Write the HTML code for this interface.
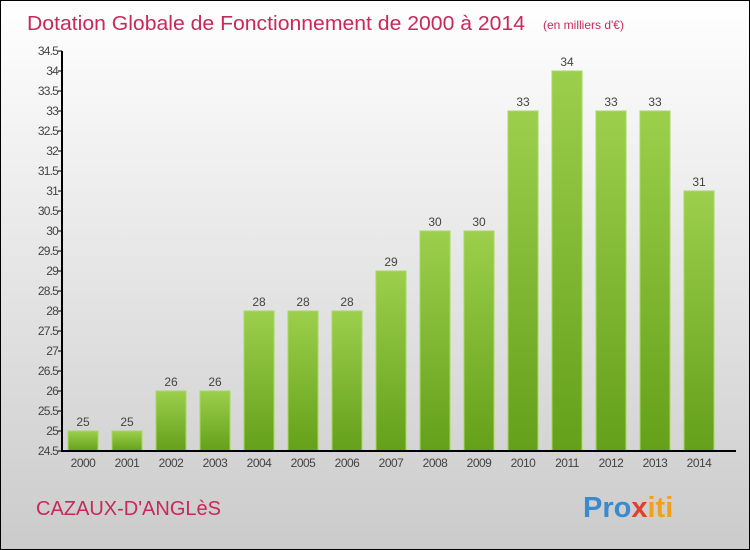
<!DOCTYPE html>
<html><head><meta charset="utf-8"><style>
body{margin:0}
#c{width:750px;height:550px;position:relative;box-sizing:border-box;border:1px solid #000;background:linear-gradient(#fff,#cbcbcb);font-family:"Liberation Sans",sans-serif;overflow:hidden}
</style></head><body>
<div id="c">
<svg width="748" height="548" style="position:absolute;left:0;top:0" id="s">
<defs><linearGradient id="g" x1="0" y1="0" x2="0" y2="1"><stop offset="0" stop-color="#9ccf4c"/><stop offset="1" stop-color="#64a01a"/></linearGradient></defs>
<text x="26" y="29" font-size="20" fill="#c8285a" textLength="498" lengthAdjust="spacingAndGlyphs">Dotation Globale de Fonctionnement de 2000 à 2014</text>
<text x="542" y="28" font-size="12" fill="#c8285a">(en milliers d'€)</text>
<text x="35" y="514" font-size="20" fill="#c8285a">CAZAUX-D'ANGLèS</text>
<text x="582" y="516" font-size="29" font-weight="bold" fill="#f0a020"><tspan fill="#3a8ad0">Pro</tspan><tspan fill="#e04030">x</tspan><tspan fill="#f0a020">iti</tspan></text>
</svg>
</div>
<script>
const years=["2000","2001","2002","2003","2004","2005","2006","2007","2008","2009","2010","2011","2012","2013","2014"];
const values=[25,25,26,26,28,28,28,29,30,30,33,34,33,33,31];
const yTicks=[24.5,25,25.5,26,26.5,27,27.5,28,28.5,29,29.5,30,30.5,31,31.5,32,32.5,33,33.5,34,34.5];
const s=document.getElementById('s');const NS="http://www.w3.org/2000/svg";
const y=v=>450-(v-24.5)*40, x=i=>82+i*44;
function mk(t,a){const e=document.createElementNS(NS,t);for(const k in a)e.setAttribute(k,a[k]);s.appendChild(e);return e;}
yTicks.forEach(v=>{
 const l=mk('line',{x1:57,x2:61,y1:y(v),y2:y(v),stroke:'#000'});
 
 
 const t=mk('text',{x:57,y:y(v)+4,'text-anchor':'end','font-size':12,fill:'#444','letter-spacing':'-0.8'});
 t.textContent=String(v);
 
 
});
years.forEach((yr,i)=>{
 const b=mk('rect',{x:x(i)-15,y:y(values[i]),width:30,height:450-y(values[i]),fill:'url(#g)',stroke:'#a8d860','stroke-width':1});
 
 
 const v=mk('text',{x:x(i),y:y(values[i])-5,'text-anchor':'middle','font-size':12,fill:'#444'});
 v.textContent=values[i];
 
 
 const t=mk('text',{x:x(i),y:466,'text-anchor':'middle','font-size':12,fill:'#444','letter-spacing':'-0.5'});
 t.textContent=yr;
 
 
});
const ax=mk('path',{d:'M61 50V450H735',stroke:'#000','stroke-width':2,fill:'none'});


</script>
</body></html>
